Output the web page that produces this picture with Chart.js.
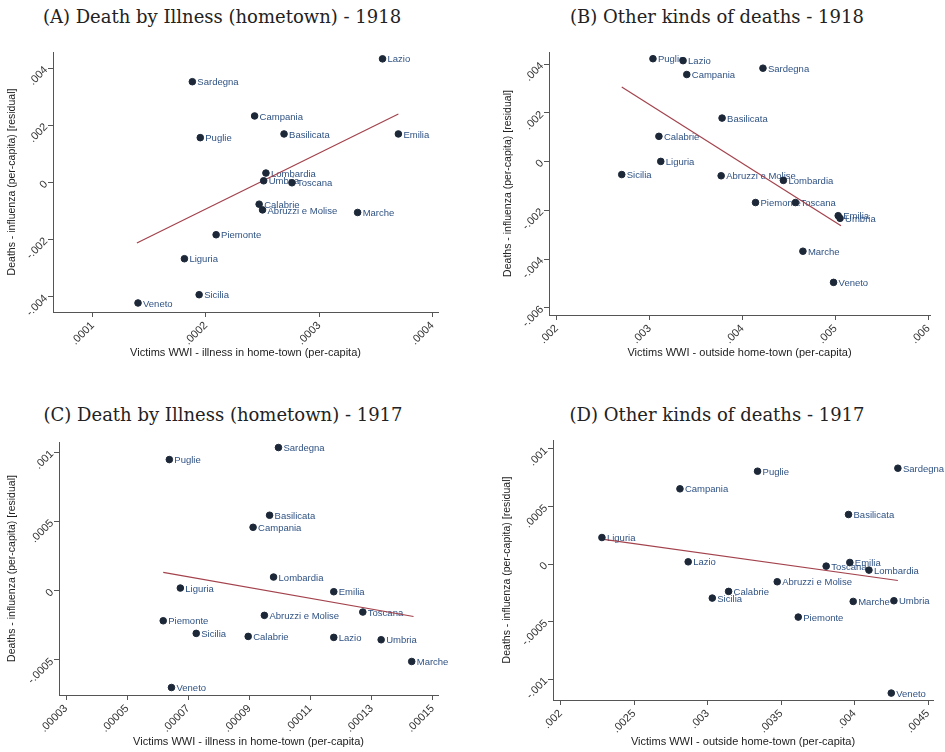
<!DOCTYPE html>
<html>
<head>
<meta charset="utf-8">
<script src="https://cdn.jsdelivr.net/npm/chart.js@4.4.1/dist/chart.umd.min.js"></script>
<style>
  body { margin: 0; background: #fff; }
  #wrap { position: relative; width: 945px; height: 752px; overflow: hidden; }
  canvas { position: absolute; }
  .ttl { position: absolute; font-family: "DejaVu Serif", serif; font-size: 18px; line-height: 22px;
         color: #222; white-space: nowrap; transform: translateX(-50%); }
</style>
</head>
<body>
<div id="wrap">
  <div class="ttl" style="left:222px;top:6px">(A) Death by Illness (hometown) - 1918</div>
  <div class="ttl" style="left:717px;top:6px">(B) Other kinds of deaths - 1918</div>
  <div class="ttl" style="left:223px;top:404px">(C) Death by Illness (hometown) - 1917</div>
  <div class="ttl" style="left:717px;top:404px">(D) Other kinds of deaths - 1917</div>
  <canvas id="cA" width="470" height="346" style="left:0;top:30px"></canvas>
  <canvas id="cB" width="475" height="346" style="left:470px;top:30px"></canvas>
  <canvas id="cC" width="470" height="327" style="left:0;top:425px"></canvas>
  <canvas id="cD" width="475" height="327" style="left:470px;top:425px"></canvas>
</div>
<script>
// regions, same order in every panel
const regions = ["Lazio", "Sardegna", "Campania", "Puglie", "Basilicata", "Emilia", "Lombardia", "Umbria",
  "Toscana", "Calabrie", "Abruzzi e Molise", "Marche", "Piemonte", "Liguria", "Sicilia", "Veneto"];

// (A) illness in home-town 1918
const xA = [0.000356, 0.000188, 0.000243, 0.000195, 0.000269, 0.00037, 0.000253, 0.000251,
  0.000276, 0.000247, 0.00025, 0.000334, 0.000209, 0.000181, 0.000194, 0.00014];
const yA = [0.00433, 0.00353, 0.00233, 0.00157, 0.0017, 0.0017, 0.00033, 0.00006,
  -0.00001, -0.00076, -0.00096, -0.00105, -0.00183, -0.00267, -0.00393, -0.00422];
const fitXA = [0.000139, 0.00037];
const fitYA = [-0.00212, 0.0024];
const xTicksA = [0.0001, 0.0002, 0.0003, 0.0004];
const yTicksA = [-0.004, -0.002, 0, 0.002, 0.004];

// (B) outside home-town 1918
const xB = [0.00336, 0.00422, 0.0034, 0.003036, 0.00378, 0.00503, 0.00444, 0.00505,
  0.00457, 0.0031, 0.00377, 0.00465, 0.00414, 0.00312, 0.0027, 0.00498];
const yB = [0.00415, 0.00384, 0.00358, 0.00423, 0.00179, -0.00222, -0.00077, -0.00233,
  -0.00168, 0.00104, -0.00058, -0.00368, -0.00168, 0.00001, -0.00053, -0.00496];
const fitXB = [0.0027, 0.00506];
const fitYB = [0.00307, -0.00263];
const xTicksB = [0.002, 0.003, 0.004, 0.005, 0.006];
const yTicksB = [-0.006, -0.004, -0.002, 0, 0.002, 0.004];

// (C) illness in home-town 1917
const xC = [0.0001176, 0.0000995, 0.0000912, 0.0000638, 0.0000966, 0.0001176, 0.0000979, 0.0001331,
  0.0001271, 0.0000896, 0.0000949, 0.0001431, 0.0000618, 0.0000674, 0.0000726, 0.0000645];
const yC = [-0.000337, 0.001034, 0.000458, 0.000947, 0.000545, -0.0000072, 0.0000988, -0.000354,
  -0.000154, -0.00033, -0.000178, -0.000511, -0.000217, 0.0000193, -0.000308, -0.000699];
const fitXC = [0.0000618, 0.0001437];
const fitYC = [0.000133, -0.000186];
const xTicksC = [0.00003, 0.00005, 0.00007, 0.00009, 0.00011, 0.00013, 0.00015];
const yTicksC = [-0.0005, 0, 0.0005, 0.001];

// (D) outside home-town 1917
const xD = [0.002868, 0.004295, 0.002812, 0.00334, 0.003959, 0.003968, 0.004098, 0.004268,
  0.003807, 0.003143, 0.003474, 0.003991, 0.003617, 0.002281, 0.003032, 0.00425];
const yD = [0.00002, 0.000833, 0.000654, 0.000807, 0.000431, 0.0000145, -0.000052, -0.000318,
  -0.0000174, -0.000237, -0.000153, -0.000324, -0.00046, 0.000231, -0.000295, -0.00112];
const fitXD = [0.002281, 0.004295];
const fitYD = [0.000217, -0.000142];
const xTicksD = [0.002, 0.0025, 0.003, 0.0035, 0.004, 0.0045];
const yTicksD = [-0.001, -0.0005, 0, 0.0005, 0.001];

const yTitle = "Deaths - influenza (per-capita) [residual]";
const xTitleIll = "Victims WWI - illness in home-town (per-capita)";
const xTitleOut = "Victims WWI - outside home-town (per-capita)";

const dotColor = "#1c2738";
const labelColor = "#2f5283";
const fitColor = "#a3424c";
const axisColor = "#555";
const sans = "'Liberation Sans', Arial, sans-serif";

const fmt = v => v === 0 ? "0" : String(v).replace("0.", ".");

// region names to the right of each marker
const pointLabels = {
  id: "pointLabels",
  beforeDatasetsDraw(chart) {
    const ctx = chart.ctx;
    const meta = chart.getDatasetMeta(0);
    ctx.save();
    ctx.font = "9.5px " + sans;
    ctx.fillStyle = labelColor;
    ctx.textAlign = "left";
    ctx.textBaseline = "middle";
    meta.data.forEach((pt, i) => {
      ctx.fillText(regions[i], pt.x + 5, pt.y + 1);
    });
    ctx.restore();
  }
};

function panel(id, xs, ys, fx, fy, xt, yt, xr, yr, xTitle, lay) {
  new Chart(document.getElementById(id), {
    type: "scatter",
    data: {
      datasets: [{
        data: xs.map((x, i) => ({ x: x, y: ys[i] })),
        backgroundColor: dotColor,
        borderColor: dotColor,
        pointRadius: 3.3,
        pointHoverRadius: 3.3
      }, {
        type: "line",
        data: fx.map((x, i) => ({ x: x, y: fy[i] })),
        borderColor: fitColor,
        borderWidth: 1.2,
        pointRadius: 0,
        fill: false
      }]
    },
    options: {
      responsive: false,
      animation: false,
      layout: { padding: { top: lay.top, right: lay.right, bottom: 0, left: 0 } },
      plugins: { legend: { display: false }, tooltip: { enabled: false } },
      scales: {
        x: {
          type: "linear",
          min: xr[0], max: xr[1],
          afterBuildTicks: s => { s.ticks = xt.map(v => ({ value: v })); },
          afterFit: s => { s.height = lay.xh; },
          ticks: { autoSkip: false, minRotation: 45, maxRotation: 45, padding: 2, callback: fmt,
                   font: { family: sans, size: 11 }, color: "#333" },
          grid: { drawOnChartArea: false, drawTicks: true, tickLength: 5, color: axisColor },
          border: { display: true, color: axisColor, width: 1 },
          title: { display: true, text: xTitle, font: { family: sans, size: 11 }, color: "#222",
                   padding: { top: 2, bottom: lay.xtp } }
        },
        y: {
          type: "linear",
          min: yr[0], max: yr[1],
          afterBuildTicks: s => { s.ticks = yt.map(v => ({ value: v })); },
          afterFit: s => { s.width = lay.yw; },
          ticks: { autoSkip: false, minRotation: 45, maxRotation: 45, padding: 2, callback: fmt,
                   font: { family: sans, size: 11 }, color: "#333" },
          grid: { drawOnChartArea: false, drawTicks: true, tickLength: 5, color: axisColor },
          border: { display: true, color: axisColor, width: 1 },
          title: { display: true, text: yTitle, font: { family: sans, size: 10.5 }, color: "#222",
                   padding: { top: lay.ytp, bottom: 2 } }
        }
      }
    },
    plugins: [pointLabels]
  });
}

panel("cA", xA, yA, fitXA, fitYA, xTicksA, yTicksA, [0.0000649, 0.000405], [-0.004536, 0.00457], xTitleIll,
  { top: 22, right: 32, yw: 53, xh: 64, xtp: 16, ytp: 6 });
panel("cB", xB, yB, fitXB, fitYB, xTicksB, yTicksB, [0.001917, 0.006018], [-0.0063, 0.004505], xTitleOut,
  { top: 22, right: 15, yw: 79, xh: 61, xtp: 16, ytp: 32 });
panel("cC", xC, yC, fitXC, fitYC, xTicksC, yTicksC, [0.0000277, 0.0001517], [-0.000753, 0.001074], xTitleIll,
  { top: 17, right: 32, yw: 59, xh: 57, xtp: 3, ytp: 6 });
panel("cD", xD, yD, fitXD, fitYD, xTicksD, yTicksD, [0.001948, 0.004534], [-0.00118, 0.001078], xTitleOut,
  { top: 15, right: 12, yw: 83, xh: 52, xtp: 3, ytp: 31 });
</script>
</body>
</html>
